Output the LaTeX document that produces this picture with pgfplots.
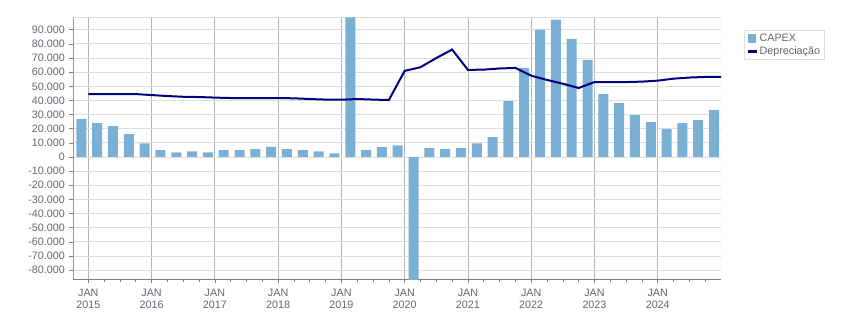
\documentclass[border=0pt]{standalone}
\usepackage{pgfplots}
\pgfplotsset{compat=1.18}
\usepackage{fontspec}
\setmainfont{Liberation Sans}
\definecolor{barblue}{RGB}{121,176,211}
\definecolor{linenavy}{RGB}{0,0,128}
\definecolor{lbl}{RGB}{100,100,115}
\definecolor{hgrid}{RGB}{222,222,222}
\definecolor{vgrid}{RGB}{178,178,178}
\definecolor{axisgray}{RGB}{128,128,128}
\pgfplotstableread{
x y
-0.44 26800
0.56 23900
1.56 21800
2.56 16100
3.56 9700
4.56 4800
5.56 3300
6.56 4000
7.56 3300
8.56 4800
9.56 4800
10.56 5500
11.56 7100
12.56 5500
13.56 4800
14.56 4000
15.56 2600
16.56 98800
17.56 4800
18.56 6900
19.56 8300
20.56 -87000
21.56 6200
22.56 5500
23.56 6200
24.56 9700
25.56 14000
26.56 39600
27.56 63000
28.56 90000
29.56 97100
30.56 83600
31.56 68700
32.56 44500
33.56 38100
34.56 29600
35.56 24600
36.56 19700
37.56 23900
38.56 26100
39.56 33200
}\capex
\pgfplotstableread{
x y
0 44500
1 44500
2 44500
3 44500
4 43800
5 43100
6 42600
7 42400
8 42000
9 41700
10 41700
11 41700
12 41700
13 41500
14 41000
15 40600
16 40500
17 41000
18 40600
19 40300
20 60900
21 63500
22 70000
23 76000
24 61600
25 61800
26 62600
27 63000
28 57500
29 54500
30 51800
31 48800
32 53000
33 53000
34 53000
35 53300
36 54000
37 55400
38 56200
39 56600
40 56600
}\depre
\begin{document}
\begin{tikzpicture}
\begin{axis}[
  at={(0pt,0pt)}, anchor=south west,
  scale only axis, width=647.7bp, height=262bp,
  xmin=-0.95, xmax=40, ymin=-86500, ymax=98800,
  separate axis lines,
  axis x line*=bottom, axis y line*=left,
  axis line style={-},
  x axis line style={draw=axisgray, line width=1.6bp},
  y axis line style={draw=axisgray!80, line width=0.8bp},
  xtick={0,4,...,36},
  xticklabels={{JAN\\2015},{JAN\\2016},{JAN\\2017},{JAN\\2018},{JAN\\2019},{JAN\\2020},{JAN\\2021},{JAN\\2022},{JAN\\2023},{JAN\\2024}},
  minor xtick={1,2,3,5,6,7,9,10,11,13,14,15,17,18,19,21,22,23,25,26,27,29,30,31,33,34,35,37,38,39},
  ytick={-80000,-70000,...,90000},
  scaled y ticks=false,
  /pgf/number format/.cd, 1000 sep={.}, assume math mode=true,
  /pgfplots/.cd,
  tick align=outside,
  major tick length=4bp, minor tick length=3bp,
  tick style={draw=axisgray, line width=0.6bp},
  xmajorgrids, ymajorgrids,
  major x grid style={draw=vgrid, line width=0.8bp},
  major y grid style={draw=hgrid, line width=0.8bp},
  ticklabel style={font=\fontsize{10.8}{12.5}\selectfont, text=lbl},
  xticklabel style={align=center, yshift=-2bp},
  yticklabel style={xshift=-1bp},
  legend style={at={(axis description cs:1.0355,0.9515)}, anchor=north west,
    draw=hgrid, line width=0.8bp, font=\fontsize{10.8}{12.5}\selectfont, text=lbl,
    inner xsep=2bp, inner ysep=1.5bp, row sep=0bp, cells={anchor=west}},
]
\draw[hgrid, line width=0.8bp] (rel axis cs:0,1) -- (rel axis cs:1,1) -- (rel axis cs:1,0);
\addplot[ybar, bar width=10bp, bar shift=0pt, fill=barblue, draw=none,
  legend image code/.code={\fill[barblue] (0bp,-4.5bp) rectangle (8bp,4.5bp);}]
  table[x=x, y=y] {\capex};
\addlegendentry{CAPEX}
\addplot[linenavy, line width=2bp, mark=none,
  legend image code/.code={\draw[draw=linenavy, line width=2.2bp] (0bp,0bp) -- (9bp,0bp);}]
  table[x=x, y=y] {\depre};
\addlegendentry{Depreciação}
\end{axis}
\pgfresetboundingbox
\path (-73.3bp,-33.7bp) rectangle (777.7bp,279.3bp);
\end{tikzpicture}
\end{document}
